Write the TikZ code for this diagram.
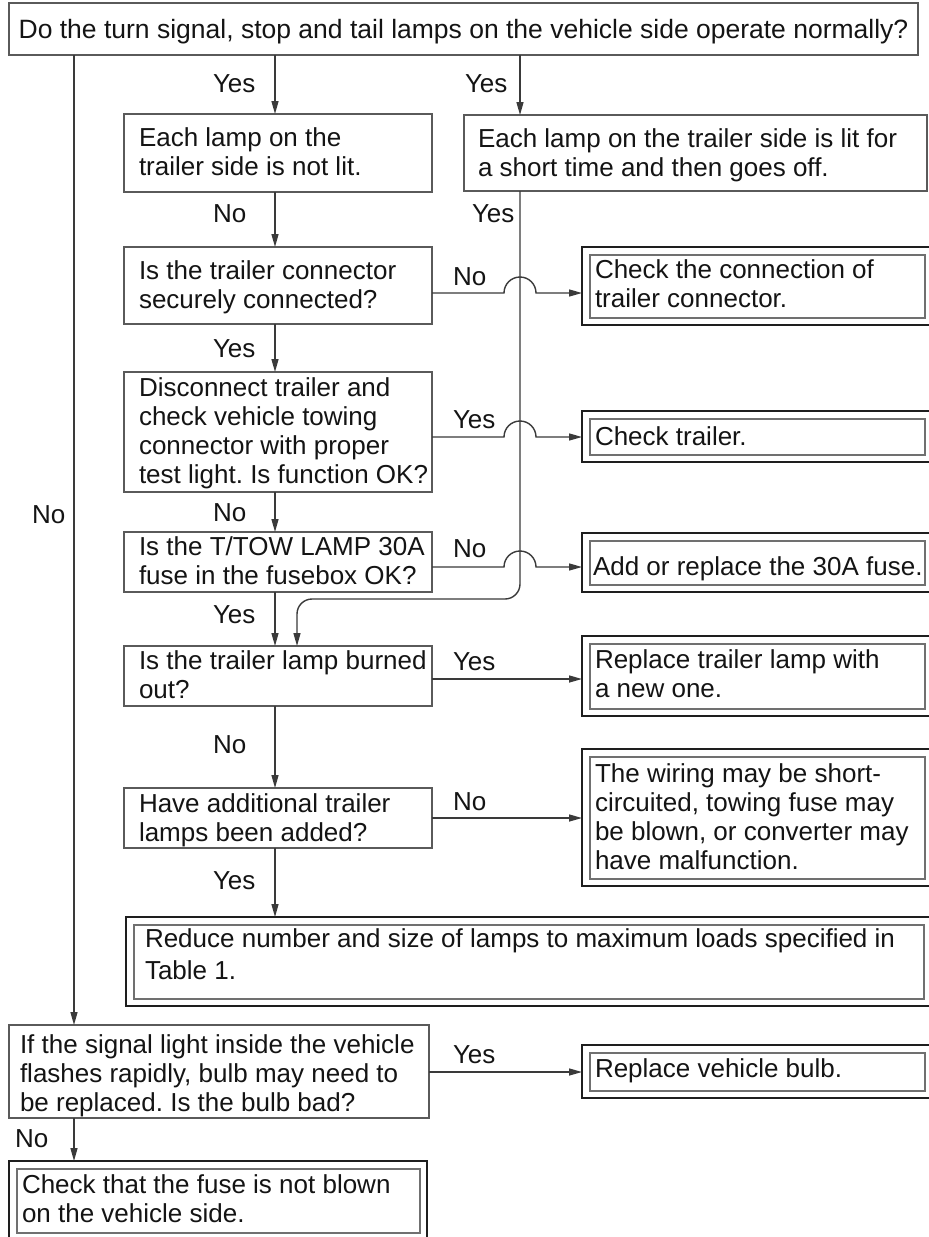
\documentclass[tikz,border=0pt]{standalone}
\usepackage{fontspec}
\setmainfont{Liberation Sans}
\usetikzlibrary{arrows.meta,calc}
\frenchspacing
\newcommand\lns[1]{\begin{tabular}[t]{@{}l@{}}#1\end{tabular}}
\definecolor{boxgray}{HTML}{5A5A5A}
\definecolor{lngray}{HTML}{3A3A3A}
\definecolor{frameblk}{HTML}{1E1E1E}
\definecolor{ingray}{HTML}{707070}
\definecolor{txtblk}{HTML}{141414}
\tikzset{
  qbox/.style={draw=boxgray, line width=1.4pt, inner sep=0pt, outer sep=0pt},
  rbox/.style={draw=frameblk, line width=2.6pt, inner sep=0pt, outer sep=0pt},
  inframe/.style={draw=ingray, line width=1.1pt},
  txt/.style={inner sep=0pt, outer sep=0pt, anchor=base west, text=txtblk, font=\fontsize{26}{29}\selectfont},
  conn/.style={draw=lngray, line width=1.4pt},
  arr/.style={conn, -{Triangle[length=13pt,width=7pt]}},
}
\newcommand\mkbox[6]{\node[#1, minimum width={#5-#3}, minimum height={#6-#4}] (#2) at ({(#3+#5)/2},{(#4+#6)/2}) {};}
% name, x1, y1, x2, y2, right gap of the inner frame
\newcommand\mkres[6]{\node[rbox, minimum width={#4-#2}, minimum height={#5-#3}] (#1) at ({(#2+#4)/2},{(#3+#5)/2}) {};
  \draw[inframe] ($(#1.north west)+(8,8)$) rectangle ($(#1.south east)+(-#6,-7)$);}
\begin{document}
\begin{tikzpicture}[x=1pt,y=-1pt]
\useasboundingbox[fill=white] (0,0) rectangle (929,1237);
% question boxes
\mkbox{qbox}{top}{9}{3}{918}{55}
\mkbox{qbox}{b1}{124}{114}{432}{192}
\mkbox{qbox}{rb}{464}{115}{927}{191}
\mkbox{qbox}{b2}{124}{247}{432}{324}
\mkbox{qbox}{b3}{124}{372}{432}{492}
\mkbox{qbox}{b4}{124}{532}{432}{592}
\mkbox{qbox}{b5}{124}{646}{432}{706}
\mkbox{qbox}{b6}{124}{788}{432}{848}
\mkbox{qbox}{sig}{9}{1025}{429}{1118}
% result boxes
\mkres{r1}{582}{247}{930}{325}{5}
\mkres{r2}{582}{411}{930}{462}{5}
\mkres{r3}{582}{533}{930}{592}{5}
\mkres{r4}{582}{636}{930}{716}{5}
\mkres{r5}{582}{749}{930}{886}{5}
\mkres{red}{126}{917}{930}{1006}{6}
\mkres{bulb}{582}{1045}{930}{1098}{5}
\mkres{fuse}{9}{1161}{427}{1240}{7}
% texts
\node[txt, anchor=base, font=\fontsize{26.5}{29}\selectfont] (ttop) at (463.5,38) {Do the turn signal, stop and tail lamps on the vehicle side operate normally?};
\node[txt] (tb1) at (139,146) {\lns{Each lamp on the\\trailer side is not lit.}};
\node[txt] (trb) at (478,147) {\lns{Each lamp on the trailer side is lit for\\a short time and then goes off.}};
\node[txt] (tb2) at (139,279) {\lns{Is the trailer connector\\securely connected?}};
\node[txt] (tb3) at (139,396) {\lns{Disconnect trailer and\\check vehicle towing\\connector with proper\\test light. Is function OK?}};
\node[txt] (tb4) at (139,555) {\lns{Is the T/TOW LAMP 30A\\fuse in the fusebox OK?}};
\node[txt] (tb5) at (139,669) {\lns{Is the trailer lamp burned\\out?}};
\node[txt] (tb6) at (139,812) {\lns{Have additional trailer\\lamps been added?}};
\node[txt] (tsig) at (20,1053) {\lns{If the signal light inside the vehicle\\flashes rapidly, bulb may need to\\be replaced. Is the bulb bad?}};
\node[txt] (tr1) at (595,278) {\lns{Check the connection of\\trailer connector.}};
\node[txt] (tr2) at (595,445) {Check trailer.};
\node[txt] (tr3) at (593,575) {Add or replace the 30A fuse.};
\node[txt] (tr4) at (595,668) {\lns{Replace trailer lamp with\\a new one.}};
\node[txt] (tr5) at (595,782) {\lns{The wiring may be short-\\circuited, towing fuse may\\be blown, or converter may\\have malfunction.}};
\node[txt] (tred) at (145,947) {\lns{Reduce number and size of lamps to maximum loads specified in\\[3pt]Table 1.}};
\node[txt] (tbulb) at (595,1077) {Replace vehicle bulb.};
\node[txt] (tfuse) at (22,1193) {\lns{Check that the fuse is not blown\\on the vehicle side.}};
% labels
\node[txt] (l1) at (213,92) {Yes};
\node[txt] (l2) at (465,92) {Yes};
\node[txt] (l3) at (213,222) {No};
\node[txt] (l4) at (472,222) {Yes};
\node[txt] (l5) at (453,285) {No};
\node[txt] (l6) at (213,357) {Yes};
\node[txt] (l7) at (453,428) {Yes};
\node[txt] (l8) at (32,523) {No};
\node[txt] (l9) at (213,521) {No};
\node[txt] (l10) at (453,557) {No};
\node[txt] (l11) at (213,623) {Yes};
\node[txt] (l12) at (453,670) {Yes};
\node[txt] (l13) at (213,753) {No};
\node[txt] (l14) at (453,810) {No};
\node[txt] (l15) at (213,889) {Yes};
\node[txt] (l16) at (453,1063) {Yes};
\node[txt] (l17) at (15,1147) {No};
% helper coordinates
\coordinate (xA) at (275,0);
\coordinate (xR) at (520,0);
\coordinate (xL) at (74,0);
\coordinate (xC) at (297,0);
\coordinate (yN1) at (0,293);
\coordinate (yY2) at (0,437);
\coordinate (yN3) at (0,567);
\coordinate (yH) at (0,599);
\coordinate (yY5) at (0,679);
\coordinate (yN6) at (0,818);
\coordinate (yS) at (0,1072);
% connectors
\draw[arr] (top.south -| xA) -- (b1.north -| xA);
\draw[arr] (top.south -| xR) -- (rb.north -| xR);
\draw[arr] (top.south -| xL) -- (sig.north -| xL);
\draw[arr] (b1.south -| xA) -- (b2.north -| xA);
\draw[arr] (b2.south -| xA) -- (b3.north -| xA);
\draw[arr] (b3.south -| xA) -- (b4.north -| xA);
\draw[arr] (b4.south -| xA) -- (b5.north -| xA);
\draw[arr] (b5.south -| xA) -- (b6.north -| xA);
\draw[arr] (b6.south -| xA) -- (red.north -| xA);
\draw[arr] (sig.south -| xL) -- (fuse.north -| xL);
\draw[arr] (sig.east |- yS) -- (bulb.west |- yS);
\draw[arr] (b5.east |- yY5) -- (r4.west |- yY5);
\draw[arr] (b6.east |- yN6) -- (r5.west |- yN6);
\draw[arr] (b2.east |- yN1) -- ($(xR |- yN1)+(-16,0)$) arc[start angle=180,end angle=0,radius=16pt] -- (r1.west |- yN1);
\draw[arr] (b3.east |- yY2) -- ($(xR |- yY2)+(-16,0)$) arc[start angle=180,end angle=0,radius=16pt] -- (r2.west |- yY2);
\draw[arr] (b4.east |- yN3) -- ($(xR |- yN3)+(-16,0)$) arc[start angle=180,end angle=0,radius=16pt] -- (r3.west |- yN3);
\draw[arr, rounded corners=15pt] (rb.south -| xR) -- (xR |- yH) -- (xC |- yH) -- (b5.north -| xC);
\end{tikzpicture}
\end{document}
